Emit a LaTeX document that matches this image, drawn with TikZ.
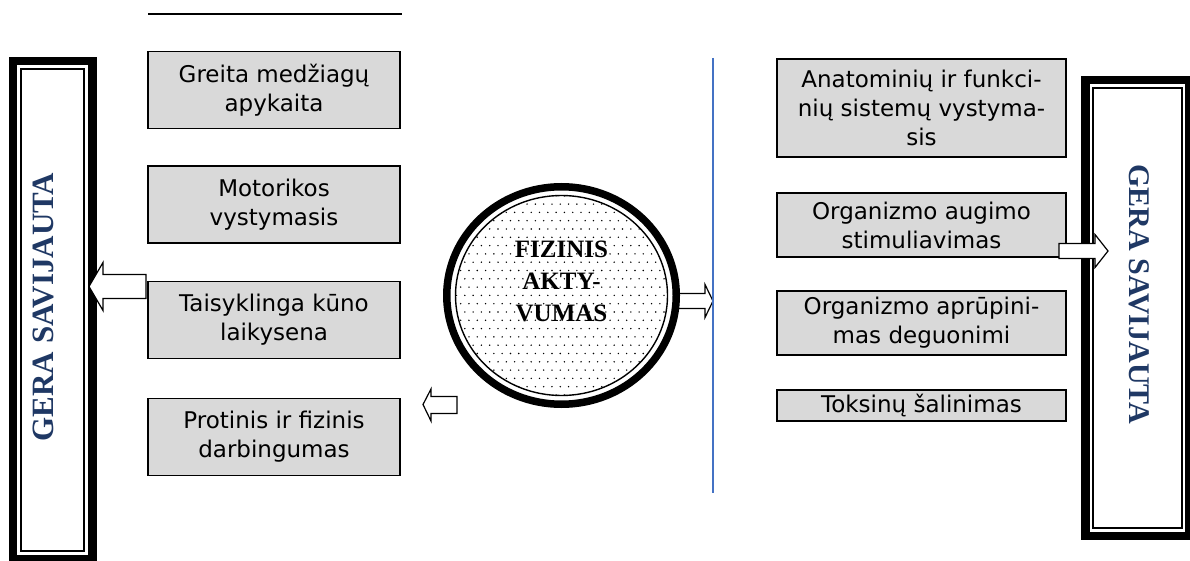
\documentclass[tikz,border=0pt]{standalone}
\usepackage{fontspec}
\setmainfont{Liberation Serif}
\newfontfamily\boxfont{DejaVu Sans}
\usetikzlibrary{shapes,patterns,calc}
\definecolor{boxgray}{RGB}{217,217,217}
\definecolor{savblue}{RGB}{31,56,100}
\definecolor{sepblue}{RGB}{68,114,196}
\pgfdeclarepatternformonly{sparsedots}{\pgfpoint{-1pt}{-1pt}}{\pgfpoint{9.3pt}{17.6pt}}{\pgfpoint{8.3pt}{16.6pt}}{
    \pgfpathcircle{\pgfpoint{0pt}{0pt}}{0.8pt}
    \pgfpathcircle{\pgfpoint{4.15pt}{8.3pt}}{0.8pt}
    \pgfusepath{fill}
}
\tikzset{
    factor/.style={draw=black, fill=boxgray, line width=1.6pt, inner sep=2pt,
        align=center, font=\boxfont\fontsize{23}{29}\selectfont},
    leftfactor/.style={factor, minimum width=252pt, minimum height=77pt},
    rightfactor/.style={factor, minimum width=289pt},
    savbox/.style={draw=black, fill=white, line width=8.5pt},
    savinner/.style={draw=black, line width=1.8pt},
    savtext/.style={text=savblue, font=\bfseries\fontsize{31}{36}\selectfont},
    fiztext/.style={align=center, font=\bfseries\fontsize{25}{32}\selectfont},
    blockarrow/.style={draw=black, fill=white, line width=1.2pt, line join=miter},
}

\begin{document}
\begin{tikzpicture}[x=1pt, y=-1pt, line width=1pt]
\useasboundingbox (0,0) rectangle (1190,561);

\draw [line width=2pt] (148,14)--(402,14);

% left side
\node [savbox, minimum width=79.5pt, minimum height=498pt] (savL) at (52.75,310) {};
\draw [savinner] ($(savL.north west)+(12.5,12.5)$) rectangle ($(savL.south east)+(-12.5,-12.5)$);
\node [savtext, rotate=90] (savLtext) at (43,307) {GERA SAVIJAUTA};

\node [leftfactor] (greita) at (274,90) {Greita medžiagų\\apykaita};
\node [leftfactor] (motor) at (274,204.5) {Motorikos\\vystymasis};
\node [leftfactor] (laik) at (274,320) {Taisyklinga kūno\\laikysena};
\node [leftfactor] (darb) at (274,437) {Protinis ir fizinis\\darbingumas};

\coordinate (tipL) at (89,286.5);
\draw [blockarrow] (tipL) -- ++(14,-24) -- ++(0,12) -- ++(43,0) -- ++(0,24) -- ++(-43,0) -- ++(0,12) -- cycle;

\coordinate (tipD) at (423,404.5);
\draw [blockarrow] (tipD) -- ++(8,-15.5) -- ++(0,7.5) -- ++(26,0) -- ++(0,17) -- ++(-26,0) -- ++(0,7.5) -- cycle;

% centre
\coordinate (tipF) at (713,301);
\draw [blockarrow] (tipF) -- ++(-8,-16.5) -- ++(0,9) -- ++(-38,0) -- ++(0,15) -- ++(38,0) -- ++(0,9) -- cycle;

\node [ellipse, draw=black, fill=white, line width=7.5pt, minimum width=229.5pt, minimum height=217.5pt] (fizOuter) at (561.5,295.5) {};
\node [ellipse, draw=black, pattern=sparsedots, line width=1.4pt, minimum width=212pt, minimum height=200pt] (fizInner) at (fizOuter.center) {};
\node [fiztext] (fizText) at (561.5,281) {FIZINIS\\AKTY-\\VUMAS};

\draw [sepblue, line width=1.3pt] (713,58)--(713,493);

% right side
\node [rightfactor, minimum height=98pt] (anat) at (921.5,108) {Anatominių ir funkci-\\nių sistemų vystyma-\\sis};
\node [rightfactor, minimum height=64pt] (augimo) at (921.5,225) {Organizmo augimo\\stimuliavimas};
\node [rightfactor, minimum height=64pt] (aprup) at (921.5,323) {Organizmo aprūpini-\\mas deguonimi};
\node [rightfactor, minimum height=31pt, inner sep=0.5pt] (toks) at (921.5,405.5) {Toksinų šalinimas};

\node [savbox, minimum width=104pt, minimum height=456pt] (savR) at (1137.5,308) {};
\draw [savinner] ($(savR.north west)+(12,12)$) rectangle ($(savR.south east)+(-12,-12)$);
\node [savtext, rotate=-90, font=\bfseries\fontsize{30}{36}\selectfont] (savRtext) at (1139,294.5) {GERA SAVIJAUTA};

\coordinate (tipR) at (1108,251);
\draw [blockarrow] (tipR) -- ++(-13,-16.5) -- ++(0,9) -- ++(-36,0) -- ++(0,15) -- ++(36,0) -- ++(0,9) -- cycle;
\end{tikzpicture}
\end{document}
